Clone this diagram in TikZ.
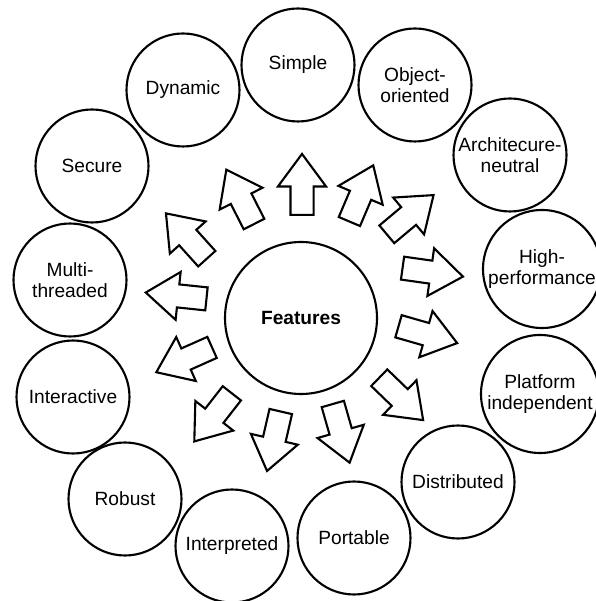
\documentclass[tikz,border=0pt]{standalone}
\usepackage{fontspec}
\setmainfont{Liberation Sans}
\usepackage{tikz}
\usetikzlibrary{shapes.arrows,calc}

\begin{document}
\begin{tikzpicture}[line width=1.2pt, font=\fontsize{10.9}{11.6}\selectfont]
        \tikzset{feature/.style={circle, draw, align=center, inner sep=0pt, minimum size=2.26cm}}
        \tikzset{blockarrow/.style={single arrow, draw, fill=white, anchor=tail, inner sep=0pt, text height=0.21cm, text depth=0.21cm, minimum height=1.22cm, single arrow head extend=0.25cm, single arrow tip angle=73}}
        \useasboundingbox (-6.02,-5.66) rectangle (5.88,6.36);
        \node[circle, draw, minimum size=3.04cm, font=\fontsize{10.9}{11.6}\selectfont\bfseries] (feat) at (0,0) {Features};
        \node[feature] (simple) at ($(feat.center)+(-0.06,5.06)$) {Simple};
        \node[feature] (oop) at ($(feat.center)+(2.28,4.66)$) {Object-\\oriented};
        \node[feature] (archn) at ($(feat.center)+(4.18,3.26)$) {Architecure-\\neutral};
        \node[feature, minimum size=2.36cm] (highperf) at ($(feat.center)+(4.82,0.98)$) {High-\\performance};
        \node[feature, minimum size=2.36cm] (platform) at ($(feat.center)+(4.78,-1.52)$) {Platform\\independent};
        \node[feature] (distrib) at ($(feat.center)+(3.14,-3.28)$) {Distributed};
        \node[feature] (portable) at ($(feat.center)+(1.06,-4.40)$) {Portable};
        \node[feature] (interp) at ($(feat.center)+(-1.38,-4.56)$) {Interpreted};
        \node[feature] (robust) at ($(feat.center)+(-3.52,-3.62)$) {Robust};
        \node[feature] (interact) at ($(feat.center)+(-4.56,-1.58)$) {Interactive};
        \node[feature] (multi) at ($(feat.center)+(-4.62,0.76)$) {Multi-\\threaded};
        \node[feature] (secure) at ($(feat.center)+(-4.18,3.04)$) {Secure};
        \node[feature] (dynamic) at ($(feat.center)+(-2.36,4.56)$) {Dynamic};
        % block arrows, placed by their tails, pointing out to each feature
        \node[blockarrow, rotate=90] (toSimple) at ($(feat.center)+(0.02,2.04)$) {};
        \node[blockarrow, rotate=67] (toOop) at ($(feat.center)+(0.96,1.91)$) {};
        \node[blockarrow, rotate=40] (toArchn) at ($(feat.center)+(1.70,1.66)$) {};
        \node[blockarrow, rotate=-8] (toHighperf) at ($(feat.center)+(2.01,1.00)$) {};
        \node[blockarrow, rotate=-16] (toPlatform) at ($(feat.center)+(1.93,-0.16)$) {};
        \node[blockarrow, rotate=-44] (toDistrib) at ($(feat.center)+(1.55,-1.18)$) {};
        \node[blockarrow, rotate=-74] (toPortable) at ($(feat.center)+(0.63,-1.70)$) {};
        \node[blockarrow, rotate=-103] (toInterp) at ($(feat.center)+(-0.40,-1.85)$) {};
        \node[blockarrow, rotate=-128] (toRobust) at ($(feat.center)+(-1.37,-1.49)$) {};
        \node[blockarrow, rotate=-156] (toInteract) at ($(feat.center)+(-1.76,-0.58)$) {};
        \node[blockarrow, rotate=174] (toMulti) at ($(feat.center)+(-1.87,0.38)$) {};
        \node[blockarrow, rotate=132] (toSecure) at ($(feat.center)+(-1.87,1.17)$) {};
        \node[blockarrow, rotate=117] (toDynamic) at ($(feat.center)+(-0.93,1.86)$) {};
    \end{tikzpicture}
\end{document}
